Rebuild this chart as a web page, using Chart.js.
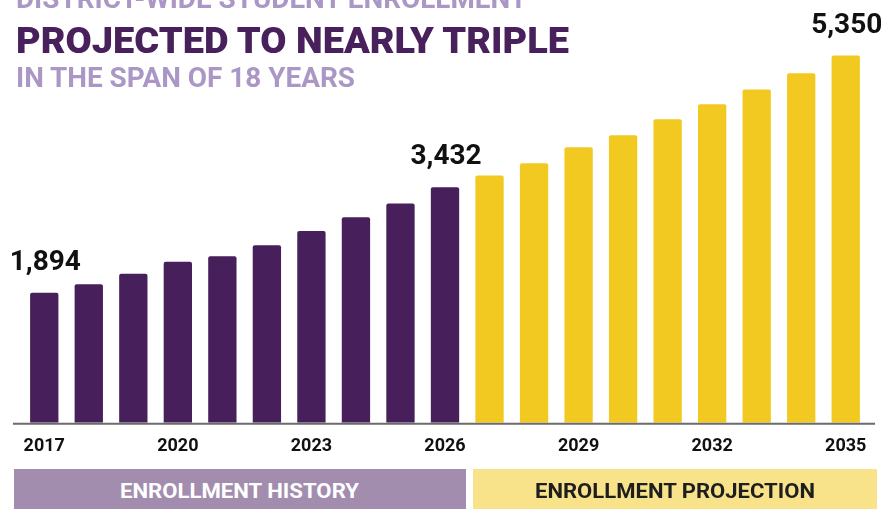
<!DOCTYPE html>
<html>
<head>
<meta charset="utf-8">
<script src="https://cdn.jsdelivr.net/npm/chart.js@4"></script>
<style>
  html, body { margin: 0; padding: 0; background: #fff; }
  #wrap { position: relative; width: 887px; height: 509px; overflow: hidden; font-family: Roboto, "Noto Sans", sans-serif; }
  #wrap canvas { position: absolute; left: 0; top: 0; }
  .txt { position: absolute; white-space: nowrap; font-weight: 700; line-height: 1; transform-origin: 0 0; }
  .band { position: absolute; top: 469px; height: 40px; }
  .band span { position: absolute; white-space: nowrap; font-weight: 700; font-size: 21px; line-height: 1; transform-origin: 0 0; }
</style>
</head>
<body>
<div id="wrap">
  <canvas id="chart" width="887" height="509"></canvas>
  <div class="txt" id="t1" style="color:#ab97c5; font-size:27px;">DISTRICT-WIDE STUDENT ENROLLMENT</div>
  <div class="txt" id="t2" style="color:#48205b; font-size:37.5px; font-weight:900;">PROJECTED TO NEARLY TRIPLE</div>
  <div class="txt" id="t3" style="color:#ab97c5; font-size:27px;">IN THE SPAN OF 18 YEARS</div>
  <div class="band" id="bandHist" style="left:14px; width:452px; background:#a38daf;"><span id="b1" style="color:#fff;">ENROLLMENT HISTORY</span></div>
  <div class="band" id="bandProj" style="left:473px; width:404px; background:#f8e38b;"><span id="b2" style="color:#1e1e1e;">ENROLLMENT PROJECTION</span></div>
</div>
<script>
const years = ['2017','2018','2019','2020','2021','2022','2023','2024','2025','2026',
               '2027','2028','2029','2030','2031','2032','2033','2034','2035'];
const historyValues = [1894, 2018, 2172, 2347, 2426, 2586, 2795, 2994, 3193, 3432];
const projectionValues = [3601, 3782, 4015, 4190, 4423, 4642, 4855, 5094, 5350];
const labeledYears = ['2017', '2026', '2035'];

const purple = '#461f5b';
const yellow = '#f2c921';

const values = historyValues.concat(projectionValues);
const colors = values.map((v, i) => i < historyValues.length ? purple : yellow);

// value labels above a few bars + the grey baseline
const annotate = {
    id: 'annotate',
    afterDatasetsDraw(chart) {
        const ctx = chart.ctx;
        const x = chart.scales.x, y = chart.scales.y;
        const base = y.getPixelForValue(0);
        ctx.save();
        ctx.strokeStyle = '#6b6b6b';
        ctx.lineWidth = 2;
        ctx.beginPath();
        ctx.moveTo(13, base + 1);
        ctx.lineTo(875, base + 1);
        ctx.stroke();

        ctx.fillStyle = '#111';
        ctx.font = '700 28px Roboto';
        ctx.textAlign = 'center';
        ctx.textBaseline = 'alphabetic';
        labeledYears.forEach(yr => {
            const i = years.indexOf(yr);
            const px = x.getPixelForValue(i);
            const py = y.getPixelForValue(values[i]);
            ctx.fillText(values[i].toLocaleString('en-US'), px + 1, py - 23);
        });
        ctx.restore();
    }
};

new Chart(document.getElementById('chart'), {
    type: 'bar',
    data: {
        labels: years,
        datasets: [{
            label: 'Enrollment',
            data: values,
            backgroundColor: colors,
            borderRadius: { topLeft: 2, topRight: 2 },
            borderSkipped: 'start',
            categoryPercentage: 1,
            barPercentage: 0.636
        }]
    },
    plugins: [annotate],
    options: {
        responsive: false,
        animation: false,
        events: [],
        layout: { padding: { left: 22, right: 19, top: 11, bottom: 0 } },
        plugins: { legend: { display: false }, tooltip: { enabled: false } },
        scales: {
            x: {
                grid: { display: false, drawTicks: false },
                border: { display: false },
                afterFit(scale) { scale.height = 509 - 422.7; },
                ticks: {
                    autoSkip: false,
                    maxRotation: 0,
                    padding: 13,
                    color: '#111',
                    font: { family: 'Roboto', weight: '700', size: 18 },
                    callback: (v, i) => i % 3 === 0 ? years[i] : ''
                }
            },
            y: {
                display: false,
                min: 0,
                max: 6000
            }
        }
    }
});

// fit the condensed-looking headline text to the widths in the original
function fit(id, left, baseline, width) {
    const el = document.getElementById(id);
    const fs = parseFloat(el.style.fontSize || getComputedStyle(el).fontSize);
    const w = el.getBoundingClientRect().width;
    el.style.left = left + 'px';
    el.style.top = (baseline - 0.8415 * fs) + 'px';
    el.style.transform = 'scaleX(' + (width / w) + ')';
}
function fitBand(id, band, centerX, baseline, width) {
    const el = document.getElementById(id);
    const b = document.getElementById(band);
    const w = el.getBoundingClientRect().width;
    const bl = parseFloat(b.style.left);
    el.style.left = (centerX - width / 2 - bl) + 'px';
    el.style.top = (baseline - 469 - 0.8415 * 21) + 'px';
    el.style.transform = 'scaleX(' + (width / w) + ')';
}
fit('t1', 16, 8.3, 511);
fit('t2', 16, 53.3, 553);
fit('t3', 16, 87.3, 339);
fitBand('b1', 'bandHist', 239.5, 498.3, 239);
fitBand('b2', 'bandProj', 675, 498.3, 280);
</script>
</body>
</html>
